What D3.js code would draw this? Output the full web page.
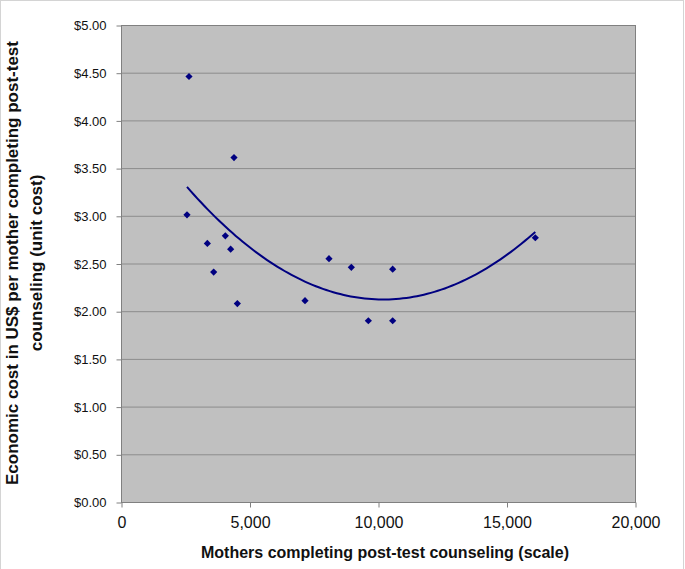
<!DOCTYPE html>
<html>
<head>
<meta charset="utf-8">
<script src="https://cdn.jsdelivr.net/npm/d3@7"></script>
<style>
  body { margin: 0; background: #fff; }
  text { font-family: "Liberation Sans", Arial, sans-serif; }
</style>
</head>
<body>
<svg id="chart" width="685" height="569"></svg>
<script>
// the data
const mothers  = [2646, 4397, 2568, 3360, 4060, 4267, 3606, 4527, 7160, 8093, 8962, 9624, 10571, 10571, 16121];
const unitCost = [4.46, 3.61, 3.01, 2.71, 2.79, 2.65, 2.41, 2.08, 2.11, 2.55, 2.46, 1.90, 2.44, 1.90, 2.77];
const xTicks = [0, 5000, 10000, 15000, 20000];
const yTicks = [0, 0.5, 1, 1.5, 2, 2.5, 3, 3.5, 4, 4.5, 5];

// the svg
let svg = d3.select("#chart"),
    width = +svg.attr("width"),
    height = +svg.attr("height");

let plot = {left: 121, right: 635, top: 25, bottom: 502};

let x = d3.scaleLinear().domain([0, 20000]).range([plot.left, plot.right]);
let y = d3.scaleLinear().domain([0, 5]).range([plot.bottom, plot.top]);

// outer frame
svg.append("rect")
    .attr("x", 0.5).attr("y", 0.5)
    .attr("width", 683).attr("height", 580)
    .attr("fill", "none")
    .attr("stroke", "#d4d4d4");

// plot background
svg.append("rect")
    .attr("x", plot.left).attr("y", plot.top)
    .attr("width", plot.right - plot.left)
    .attr("height", plot.bottom - plot.top)
    .attr("fill", "#c0c0c0");

// gridlines
svg.append("g")
    .selectAll("line")
    .data(yTicks.slice(1, -1))
    .enter()
    .append("line")
    .attr("x1", plot.left).attr("x2", plot.right)
    .attr("y1", d => y(d) + 0.5).attr("y2", d => y(d) + 0.5)
    .attr("stroke", "#8c8c8c");

// plot border
svg.append("rect")
    .attr("x", plot.left + 0.5).attr("y", plot.top + 0.5)
    .attr("width", plot.right - plot.left)
    .attr("height", plot.bottom - plot.top)
    .attr("fill", "none")
    .attr("stroke", "#808080");

// axes
let yAxis = d3.axisLeft(y)
    .tickValues(yTicks)
    .tickSize(5)
    .tickPadding(10)
    .tickFormat(d => "$" + d3.format(".2f")(d));
let gy = svg.append("g")
    .attr("transform", "translate(" + (plot.left + 0.5) + ",0.5)")
    .call(yAxis);
gy.select(".domain").remove();
gy.selectAll("line").attr("stroke", "#808080");
gy.selectAll("text").attr("font-size", 13).attr("fill", "#111").attr("font-family", null);

let xAxis = d3.axisBottom(x)
    .tickValues(xTicks)
    .tickSize(5)
    .tickPadding(9)
    .tickFormat(d3.format(","));
let gx = svg.append("g")
    .attr("transform", "translate(0.5," + (plot.bottom + 0.5) + ")")
    .call(xAxis);
gx.select(".domain").remove();
gx.selectAll("line").attr("stroke", "#808080");
gx.selectAll("text").attr("font-size", 16).attr("fill", "#111").attr("font-family", null);

// trendline: 2nd order polynomial least squares fit of the points
function polyFit(xs, ys) {
    // normal equations for y = a + b x + c x^2 (x scaled to thousands)
    let s = [0, 0, 0, 0, 0], t = [0, 0, 0];
    xs.forEach((xv, i) => {
        let u = xv / 1000;
        for (let k = 0; k < 5; k++) s[k] += Math.pow(u, k);
        for (let k = 0; k < 3; k++) t[k] += ys[i] * Math.pow(u, k);
    });
    let m = [[s[0], s[1], s[2], t[0]], [s[1], s[2], s[3], t[1]], [s[2], s[3], s[4], t[2]]];
    for (let i = 0; i < 3; i++) {
        for (let j = i + 1; j < 3; j++) {
            let f = m[j][i] / m[i][i];
            for (let k = i; k < 4; k++) m[j][k] -= f * m[i][k];
        }
    }
    let c = [0, 0, 0];
    for (let i = 2; i >= 0; i--) {
        let v = m[i][3];
        for (let k = i + 1; k < 3; k++) v -= m[i][k] * c[k];
        c[i] = v / m[i][i];
    }
    return u => c[0] + c[1] * (u / 1000) + c[2] * Math.pow(u / 1000, 2);
}
let fit = polyFit(mothers, unitCost);
let xmin = d3.min(mothers), xmax = d3.max(mothers);
let curve = d3.range(0, 101).map(i => xmin + (xmax - xmin) * i / 100);

svg.append("path")
    .datum(curve)
    .attr("fill", "none")
    .attr("stroke", "#000080")
    .attr("stroke-width", 2)
    .attr("d", d3.line().x(d => x(d)).y(d => y(fit(d))));

// points
svg.append("g")
    .selectAll("path")
    .data(mothers)
    .enter()
    .append("path")
    .attr("transform", (d, i) => "translate(" + x(d) + "," + y(unitCost[i]) + ") rotate(45)")
    .attr("d", d3.symbol().type(d3.symbolSquare).size(26))
    .attr("fill", "#000080");

// axis titles
svg.append("text")
    .attr("x", 385).attr("y", 558)
    .attr("text-anchor", "middle")
    .attr("font-size", 16)
    .attr("font-weight", "bold")
    .attr("fill", "#111")
    .text("Mothers completing post-test counseling (scale)");

let ytitle = svg.append("text")
    .attr("transform", "translate(0,263) rotate(-90)")
    .attr("text-anchor", "middle")
    .attr("font-size", 17)
    .attr("font-weight", "bold")
    .attr("fill", "#111");
ytitle.append("tspan").attr("x", 0).attr("y", 17.5).text("Economic cost in US$ per mother completing post-test");
ytitle.append("tspan").attr("x", 0).attr("y", 41.5).text("counseling (unit cost)");
</script>
</body>
</html>
